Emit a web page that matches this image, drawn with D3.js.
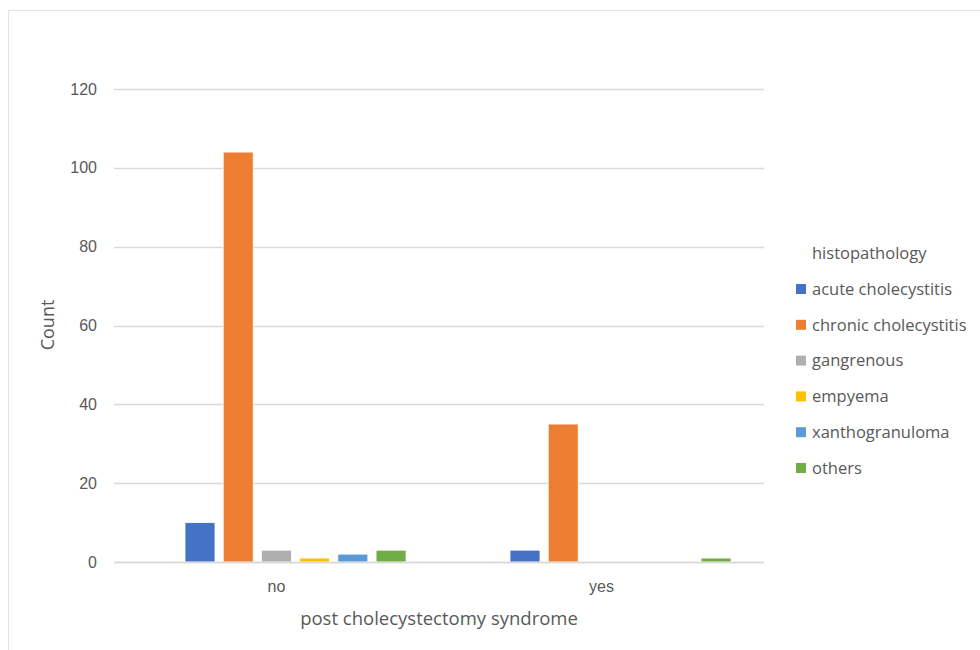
<!DOCTYPE html>
<html>
<head>
<meta charset="utf-8">
<script src="https://cdn.jsdelivr.net/npm/d3@7"></script>
<style>
  body { margin: 0; background: #fff; }
  svg { display: block; font-family: "Open Sans", "Noto Sans", sans-serif; }
</style>
</head>
<body>
<svg id="chart" width="980" height="650"></svg>
<script>
// Groups on the x axis
const categories = ["no", "yes"];
// Histopathology series
const seriesNames = ["acute cholecystitis", "chronic cholecystitis", "gangrenous", "empyema", "xanthogranuloma", "others"];
const seriesColors = ["#4472C4", "#ED7D31", "#AFAFAF", "#FFC000", "#5B9BD5", "#70AD47"];
// Counts per series, in category order [no, yes]
const acute = [10, 3];
const chronic = [104, 35];
const gangrenous = [3, 0];
const empyema = [1, 0];
const xanthogranuloma = [2, 0];
const others = [3, 1];
const seriesValues = [acute, chronic, gangrenous, empyema, xanthogranuloma, others];
const yTicks = [0, 20, 40, 60, 80, 100, 120];

const svg = d3.select("#chart");
const textColor = "#595959";
const gridColor = "#D9D9D9";

// Outer chart frame
svg.append("rect")
  .attr("x", 8.5).attr("y", 10.5)
  .attr("width", 1000).attr("height", 700)
  .attr("fill", "none").attr("stroke", "#E3E3E3").attr("stroke-width", 1);

const plot = { left: 114, right: 764, top: 89, bottom: 562 };

const y = d3.scaleLinear().domain([0, 120]).range([plot.bottom, plot.top]);
const x0 = d3.scaleBand().domain(categories).range([plot.left, plot.right]).padding(0);
// Bar clusters sit slightly right of the category centre
const x1 = d3.scaleBand().domain(seriesNames)
  .range([0, x0.bandwidth()]).paddingInner(0.215).paddingOuter(1.36).align(0.683);

// Gridlines
svg.append("g")
  .selectAll("line")
  .data(yTicks)
  .join("line")
  .attr("x1", plot.left).attr("x2", plot.right)
  .attr("y1", d => Math.round(y(d)) + 0.5).attr("y2", d => Math.round(y(d)) + 0.5)
  .attr("stroke", gridColor).attr("stroke-width", 1.3);

// Y axis labels
const yAxis = d3.axisLeft(y).tickValues(yTicks).tickSize(0).tickPadding(0);
const yg = svg.append("g").attr("transform", `translate(${plot.left - 17},0)`).call(yAxis);
yg.select(".domain").remove();
yg.selectAll("text").attr("fill", textColor).style("font-size", "16px");

// Bars
const groups = svg.append("g").selectAll("g")
  .data(categories)
  .join("g")
  .attr("transform", d => `translate(${x0(d)},0)`);

groups.selectAll("rect")
  .data((c, ci) => seriesNames.map((s, si) => ({ s, si, v: seriesValues[si][ci] })))
  .join("rect")
  .attr("x", d => x1(d.s))
  .attr("width", x1.bandwidth())
  .attr("y", d => y(d.v))
  .attr("height", d => y(0) - y(d.v))
  .attr("fill", d => seriesColors[d.si])
  .attr("stroke", "#fff").attr("stroke-width", 0.8);

// Baseline
svg.append("line")
  .attr("x1", plot.left).attr("x2", plot.right)
  .attr("y1", Math.round(y(0)) + 0.5).attr("y2", Math.round(y(0)) + 0.5)
  .attr("stroke", gridColor).attr("stroke-width", 1.5);

// X axis category labels
const xAxis = d3.axisBottom(x0).tickSize(0).tickPadding(0);
const xg = svg.append("g").attr("transform", `translate(0,${plot.bottom + 15})`).call(xAxis);
xg.select(".domain").remove();
xg.selectAll("text").attr("fill", textColor).style("font-size", "16px").attr("dy", "0.95em");

// Axis titles
svg.append("text")
  .attr("x", (plot.left + plot.right) / 2 + 0).attr("y", 625)
  .attr("text-anchor", "middle").attr("fill", textColor)
  .style("font-size", "18.5px")
  .text("post cholecystectomy syndrome");

svg.append("text")
  .attr("transform", "translate(54,325) rotate(-90)")
  .attr("text-anchor", "middle").attr("fill", textColor)
  .style("font-size", "18px")
  .text("Count");

// Legend
const legend = svg.append("g").attr("transform", "translate(796,0)");
legend.append("text")
  .attr("x", 16).attr("y", 259)
  .attr("fill", textColor).style("font-size", "16.5px")
  .text("histopathology");

const items = legend.selectAll("g.item")
  .data(seriesNames)
  .join("g")
  .attr("class", "item")
  .attr("transform", (d, i) => `translate(0,${289 + i * 35.8})`);

items.append("rect")
  .attr("x", 0).attr("y", -5).attr("width", 10).attr("height", 10)
  .attr("fill", (d, i) => seriesColors[i]);

items.append("text")
  .attr("x", 16).attr("y", 0).attr("dy", "0.35em")
  .attr("fill", textColor).style("font-size", "16.5px")
  .text(d => d);
</script>
</body>
</html>
